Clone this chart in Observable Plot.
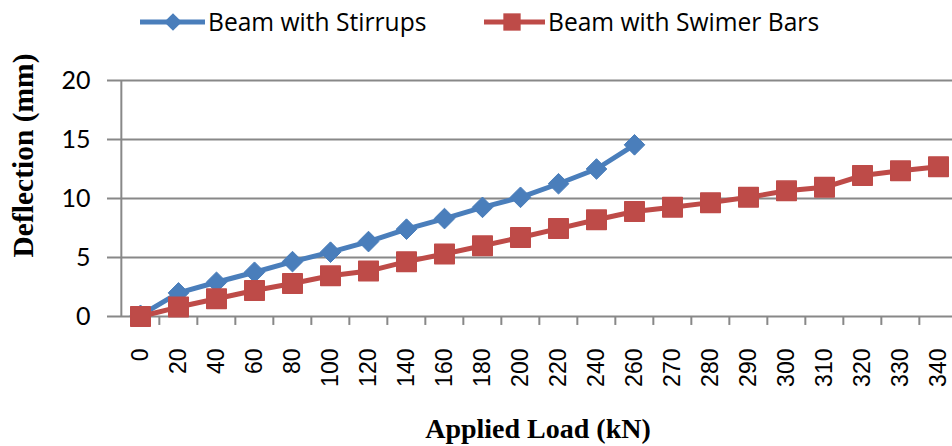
<!DOCTYPE html>
<html><head><meta charset="utf-8">
<script src="https://cdn.jsdelivr.net/npm/d3@7"></script>
<script src="https://cdn.jsdelivr.net/npm/@observablehq/plot@0.6"></script>
<style>
html,body{margin:0;padding:0;background:#fff;overflow:hidden}
#wrap{position:relative;width:952px;height:446px;overflow:hidden}
#legend{position:absolute;left:0;top:0}
#chart{position:absolute;left:0;top:44px}
</style></head><body>
<div id="wrap"><div id="chart"></div><svg id="legend" width="952" height="44"></svg></div>
<script>
// ---- data ----
const loads = ["0","20","40","60","80","100","120","140","160","180","200","220","240","260","270","280","290","300","310","320","330","340"];
const stirrups = [0.1, 2.0, 2.9, 3.75, 4.65, 5.45, 6.35, 7.4, 8.3, 9.25, 10.1, 11.25, 12.5, 14.55];
const swimmer = [0.0, 0.8, 1.5, 2.2, 2.8, 3.45, 3.85, 4.65, 5.3, 6.0, 6.7, 7.45, 8.2, 8.9, 9.25, 9.65, 10.1, 10.65, 10.95, 11.95, 12.35, 12.7];
const yTicks = [0, 5, 10, 15, 20];
const seriesNames = ["Beam with Stirrups", "Beam with Swimer Bars"];
const colors = ["#4A7EBB", "#BE4B48"];
const xTitle = "Applied Load (kN)";
const yTitle = "Deflection (mm)";

const dataS = stirrups.map((v, i) => ({load: loads[i], d: v}));
const dataW = swimmer.map((v, i) => ({load: loads[i], d: v}));

const W = 952, H = 402, mL = 117, xEnd = 960;
const step = (xEnd - mL) / loads.length;
const grid = "#888888";

const chart = Plot.plot({
  width: W, height: H,
  marginTop: 36, marginBottom: 130, marginLeft: mL, marginRight: 0,
  style: {background: "transparent", color: "black", overflow: "visible"},
  x: {type: "point", domain: loads, range: [mL, xEnd], padding: 0.5, tickSize: 0, tickRotate: -90, tickPadding: 32, label: null},
  y: {domain: [0, 20], ticks: yTicks, tickSize: 0, tickPadding: 27, label: null},
  marks: [
    Plot.ruleY(yTicks, {stroke: grid, strokeWidth: 2, insetLeft: -10}),
    Plot.ruleX([loads[0]], {dx: -step / 2, stroke: grid, strokeWidth: 2}),
    Plot.ruleX(loads.slice(1), {dx: -step / 2, y1: 0, y2: -0.76, stroke: grid, strokeWidth: 2}),
    Plot.line(dataS, {x: "load", y: "d", stroke: colors[0], strokeWidth: 5}),
    Plot.dot(dataS, {x: "load", y: "d", symbol: "diamond2", r: 9.3, fill: colors[0], stroke: colors[0], strokeWidth: 1}),
    Plot.line(dataW, {x: "load", y: "d", stroke: colors[1], strokeWidth: 5}),
    Plot.dot(dataW, {x: "load", y: "d", symbol: "square", r: 11, fill: colors[1], stroke: colors[1], strokeWidth: 1.5, strokeLinejoin: "round"}),
    Plot.text([xTitle], {text: d => d, frameAnchor: "bottom", textAnchor: "middle", dx: 3, dy: 121, fontFamily: "Liberation Serif", fontWeight: "bold", fontSize: 28, fill: "black"}),
    Plot.text([yTitle], {text: d => d, frameAnchor: "left", textAnchor: "middle", dx: -94, dy: -43, rotate: -90, fontFamily: "Liberation Serif", fontWeight: "bold", fontSize: 29.5, fill: "black"})
  ]
});
document.getElementById("chart").appendChild(chart);

const svg = d3.select(chart);
svg.selectAll('g[aria-label^="x-axis"] text').attr("font-family", "Liberation Sans").attr("font-size", 23).attr("fill", "black");
svg.selectAll('g[aria-label^="y-axis"] text').attr("font-family", "Lato").attr("font-size", 25).attr("fill", "black");

// ---- legend ----
const lg = d3.select("#legend");
const items = [
  {x0: 140, x1: 205, mx: 173, tx: 208, sym: d3.symbolDiamond2, size: 200},
  {x0: 484, x1: 545, mx: 512, tx: 548, sym: d3.symbolSquare, size: 300}
];
items.forEach((it, i) => {
  lg.append("line").attr("x1", it.x0).attr("x2", it.x1).attr("y1", 22).attr("y2", 22)
    .attr("stroke", colors[i]).attr("stroke-width", 5);
  lg.append("path").attr("d", d3.symbol(it.sym, it.size)()).attr("transform", `translate(${it.mx},22)`)
    .attr("fill", colors[i]);
  lg.append("text").attr("x", it.tx).attr("y", 22).attr("dy", "0.35em")
    .attr("font-family", "Open Sans").attr("font-size", 24.6).attr("fill", "black").text(seriesNames[i]);
});
</script>
</body></html>
